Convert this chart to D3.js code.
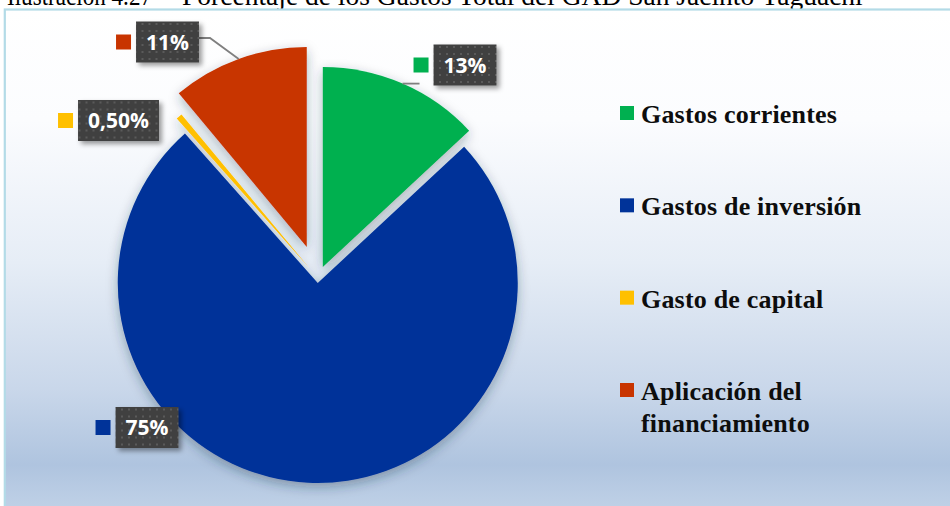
<!DOCTYPE html>
<html>
<head>
<meta charset="utf-8">
<script src="https://cdn.jsdelivr.net/npm/d3@7/dist/d3.min.js"></script>
<style>
  html, body { margin: 0; padding: 0; background: #ffffff; }
  svg { display: block; }
</style>
</head>
<body>
<svg id="chart" width="950" height="506"></svg>
<script>
// ---- data ----
const categories = ["Gastos corrientes", "Gastos de inversión", "Gasto de capital", "Aplicación del financiamiento"];
const shares = [13, 75, 0.5, 11];
const shareLabels = ["13%", "75%", "0,50%", "11%"];
const captionParts = ["Ilustración 4.27", "–", "Porcentaje de los Gastos Total del GAD San Jacinto Yaguachi"];

// ---- styling ----
const colors = ["#00b050", "#003399", "#ffc000", "#c83400"];
const explode = [12, 5, 13, 33];                 // slice pull-out distance (px)
const labelCenters = [[465, 65], [147, 427.5], [118.5, 120.5], [167.5, 42]];
const leaderSlices = [0, 3];                      // slices whose label has a leader line

const W = 950, H = 506;
const cx = 318, cy = 278, R = 200;

const svg = d3.select("#chart");
const defs = svg.append("defs");

// background gradient of the chart area
const bg = defs.append("linearGradient").attr("id", "bgGrad")
  .attr("x1", 0).attr("y1", 0).attr("x2", 0).attr("y2", 1);
[[0, "#ffffff"], [0.22, "#fbfcfe"], [0.5, "#e6edf6"], [0.75, "#c9d7ea"], [0.9, "#afc4df"], [1, "#c2d3e8"]]
  .forEach(([o, c]) => bg.append("stop").attr("offset", o).attr("stop-color", c));

// soft shadow under the pie
const pieShadow = defs.append("filter").attr("id", "pieShadow")
  .attr("x", "-20%").attr("y", "-20%").attr("width", "140%").attr("height", "140%");
pieShadow.append("feDropShadow").attr("dx", 0).attr("dy", 4).attr("stdDeviation", 6)
  .attr("flood-color", "#223044").attr("flood-opacity", 0.35);

// shadow of the label boxes
const boxShadow = defs.append("filter").attr("id", "boxShadow")
  .attr("x", "-20%").attr("y", "-20%").attr("width", "150%").attr("height", "150%");
boxShadow.append("feDropShadow").attr("dx", 3).attr("dy", 3).attr("stdDeviation", 2.5)
  .attr("flood-color", "#000").attr("flood-opacity", 0.4);

// dotted dark fill of the label boxes
const dots = defs.append("pattern").attr("id", "dotFill")
  .attr("patternUnits", "userSpaceOnUse").attr("width", 7).attr("height", 7);
dots.append("rect").attr("width", 7).attr("height", 7).attr("fill", "#404040");
dots.append("rect").attr("x", 2).attr("y", 2).attr("width", 2).attr("height", 2).attr("fill", "#5a5a5a");

// ---- caption (partly above the top edge) ----
const serif = "Liberation Serif, Times New Roman, serif";
const capSize = (() => {
  const t = svg.append("text").attr("font-family", serif).attr("font-size", 100).text(captionParts[2]);
  const w = t.node().getComputedTextLength();
  t.remove();
  return 100 * 681 / w;
})();
const cap = svg.append("text")
  .attr("font-family", serif).attr("font-size", capSize).attr("fill", "#000").attr("y", 5);
cap.append("tspan").attr("x", 7).attr("textLength", 145).attr("lengthAdjust", "spacingAndGlyphs").text(captionParts[0]);
cap.append("tspan").attr("x", 164).text(captionParts[1]);
cap.append("tspan").attr("x", 182).text(captionParts[2]);

// ---- chart area ----
svg.append("rect").attr("x", 4.8).attr("y", 9.5).attr("width", W).attr("height", H)
  .attr("fill", "url(#bgGrad)").attr("stroke", "#b3dbe7").attr("stroke-width", 2.2);

// ---- pie ----
const pie = d3.pie().sort(null).value(d => d).startAngle(0).endAngle(2 * Math.PI);
const arcs = pie(shares);
const arcGen = d3.arc().innerRadius(0).outerRadius(R);

const offset = (a, d) => {
  const m = (a.startAngle + a.endAngle) / 2;
  return [Math.sin(m) * d, -Math.cos(m) * d];
};

const pieG = svg.append("g").attr("transform", `translate(${cx},${cy})`)
  .attr("filter", "url(#pieShadow)");
pieG.selectAll("path").data(arcs).join("path")
  .attr("d", arcGen)
  .attr("fill", (d, i) => colors[i])
  .attr("transform", (d, i) => { const [dx, dy] = offset(d, explode[i]); return `translate(${dx},${dy})`; });

// ---- leader lines ----
const boxH = 41;
const labelFont = "'Open Sans', 'DejaVu Sans', sans-serif";
const measure = svg.append("text").attr("font-family", labelFont).attr("font-weight", 700)
  .attr("font-size", 21).attr("visibility", "hidden");
const boxW = shareLabels.map(s => { measure.text(s); return measure.node().getComputedTextLength() + 20; });
measure.remove();

leaderSlices.forEach(i => {
  const a = arcs[i];
  const [dx, dy] = offset(a, explode[i]);
  const m = (a.startAngle + a.endAngle) / 2;
  const px = cx + dx + Math.sin(m) * R, py = cy + dy - Math.cos(m) * R;
  const [lx, ly] = labelCenters[i];
  let pts;
  if (px > lx) {
    // label sits to the left: elbow then horizontal run to the box edge
    const edge = lx + boxW[i] / 2;
    const yy = ly - 4;
    pts = [[px, py], [edge + 11, yy], [edge, yy]];
  } else {
    pts = [[px, py], [lx - boxW[i] / 2 - 14, py]];
  }
  svg.append("path").attr("d", d3.line()(pts))
    .attr("fill", "none").attr("stroke", "#7f7f7f").attr("stroke-width", 1.8);
});

// ---- data labels ----
const lab = svg.append("g").selectAll("g").data(shareLabels).join("g")
  .attr("transform", (d, i) => `translate(${labelCenters[i][0]},${labelCenters[i][1]})`);
lab.append("rect")
  .attr("x", (d, i) => -boxW[i] / 2).attr("y", -boxH / 2)
  .attr("width", (d, i) => boxW[i]).attr("height", boxH)
  .attr("fill", "url(#dotFill)").attr("filter", "url(#boxShadow)");
lab.append("rect")
  .attr("x", (d, i) => -boxW[i] / 2 - 20).attr("y", -7.5)
  .attr("width", 15).attr("height", 15)
  .attr("fill", (d, i) => colors[i]);
lab.append("text")
  .attr("text-anchor", "middle").attr("y", 7.5)
  .attr("font-family", labelFont).attr("font-weight", 700).attr("font-size", 21)
  .attr("fill", "#ffffff").text(d => d);

// ---- legend ----
const legY = d3.scaleLinear().domain([0, 3]).range([123, 400]);
const leg = svg.append("g").selectAll("g").data(categories).join("g")
  .attr("transform", (d, i) => `translate(620,${legY(i)})`);
leg.append("rect").attr("x", 0).attr("y", -17).attr("width", 14).attr("height", 14)
  .attr("fill", (d, i) => colors[i]);
const legText = leg.append("text")
  .attr("font-family", serif)
  .attr("font-weight", 700).attr("font-size", 26).attr("letter-spacing", 0.2)
  .attr("fill", "#0d0d0d");
legText.each(function (d) {
  const t = d3.select(this);
  const lines = d === "Aplicación del financiamiento" ? ["Aplicación del", "financiamiento"] : [d];
  lines.forEach((ln, k) => t.append("tspan").attr("x", 21).attr("y", k * 32).text(ln));
});
</script>
</body>
</html>
